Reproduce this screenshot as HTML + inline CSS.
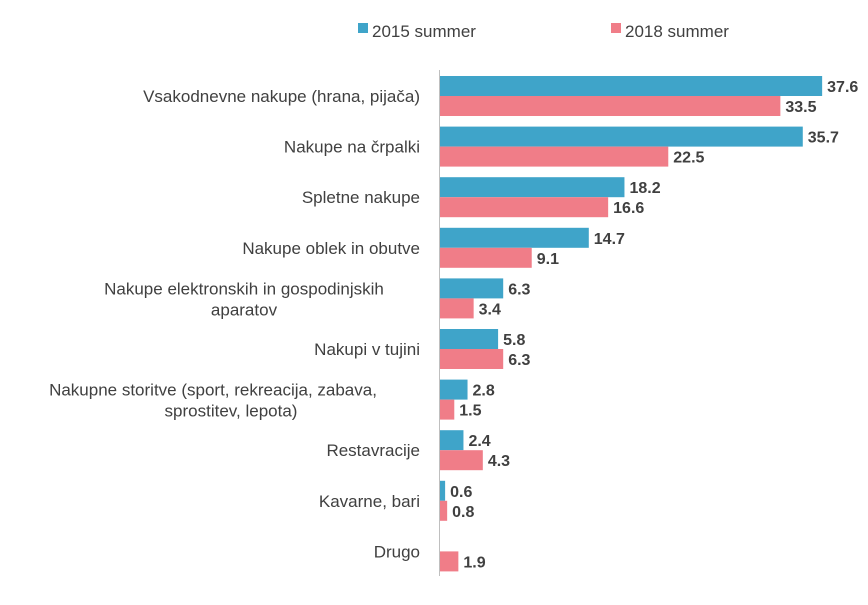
<!DOCTYPE html>
<html><head><meta charset="utf-8"><style>
body{margin:0;background:#fff;}
svg text{font-family:"Liberation Sans",sans-serif;}
</style></head><body>
<svg id="chart" width="868" height="600" viewBox="0 0 868 600">
<g id="legend">
<rect x="358" y="23" width="10" height="10" fill="#3fa4c9"/>
<text x="372" y="37" font-size="17" fill="#404040">2015 summer</text>
<rect x="611" y="23" width="10" height="10" fill="#f07d88"/>
<text x="625" y="37" font-size="17" fill="#404040">2018 summer</text>
</g>
<g id="bars"></g>
<line x1="439.5" y1="70" x2="439.5" y2="576" stroke="#bfbfbf" stroke-width="1"/>
</svg>
<script>
const categories = [
 ["Vsakodnevne nakupe (hrana, pijača)"],
 ["Nakupe na črpalki"],
 ["Spletne nakupe"],
 ["Nakupe oblek in obutve"],
 ["Nakupe elektronskih in gospodinjskih","aparatov"],
 ["Nakupi v tujini"],
 ["Nakupne storitve (sport, rekreacija, zabava,","sprostitev, lepota)"],
 ["Restavracije"],
 ["Kavarne, bari"],
 ["Drugo"]
];
const values2015 = [37.6,35.7,18.2,14.7,6.3,5.8,2.8,2.4,0.6,0];
const values2018 = [33.5,22.5,16.6,9.1,3.4,6.3,1.5,4.3,0.8,1.9];
const x0 = 439, pxPerUnit = 10.19;
const xScale = v => x0 + v * pxPerUnit;
const yCenter = i => 96 + i * 50.6;
const NS = "http://www.w3.org/2000/svg";
const g = document.getElementById("bars");
function mk(tag, attrs){const e=document.createElementNS(NS,tag);for(const k in attrs)e.setAttribute(k,attrs[k]);g.appendChild(e);return e;}
categories.forEach((lines,i)=>{
  const c = yCenter(i);
  if(lines.length===1){
    const t = mk("text",{x:420,y:c+6,"font-size":17,fill:"#404040","text-anchor":"end"});
    t.textContent = lines[0];
    
    
  } else {
    const t = mk("text",{y:c-4,"font-size":17,fill:"#404040","text-anchor":"middle"});
    t.setAttribute("x", i===4?244:213);
    t.textContent = lines[0];
    
    
    const t2 = mk("text",{y:c+17,"font-size":17,fill:"#404040","text-anchor":"middle"});
    t2.setAttribute("x", i===4?244:231);
    t2.textContent = lines[1];
    
    
  }
  [[values2015[i],"#3fa4c9",c-20,"bar-2015"],[values2018[i],"#f07d88",c,"bar-2018"]].forEach(([v,col,y,nm])=>{
    if(v<=0) return;
    const r = mk("rect",{x:x0,y:y,width:xScale(v)-x0,height:20,fill:col});
    
    
    const l = mk("text",{x:xScale(v)+5,y:y+16,"font-size":16,"font-weight":"bold",fill:"#404040"});
    l.textContent = v.toFixed(1);
    
    
  });
});
</script>
</body></html>
